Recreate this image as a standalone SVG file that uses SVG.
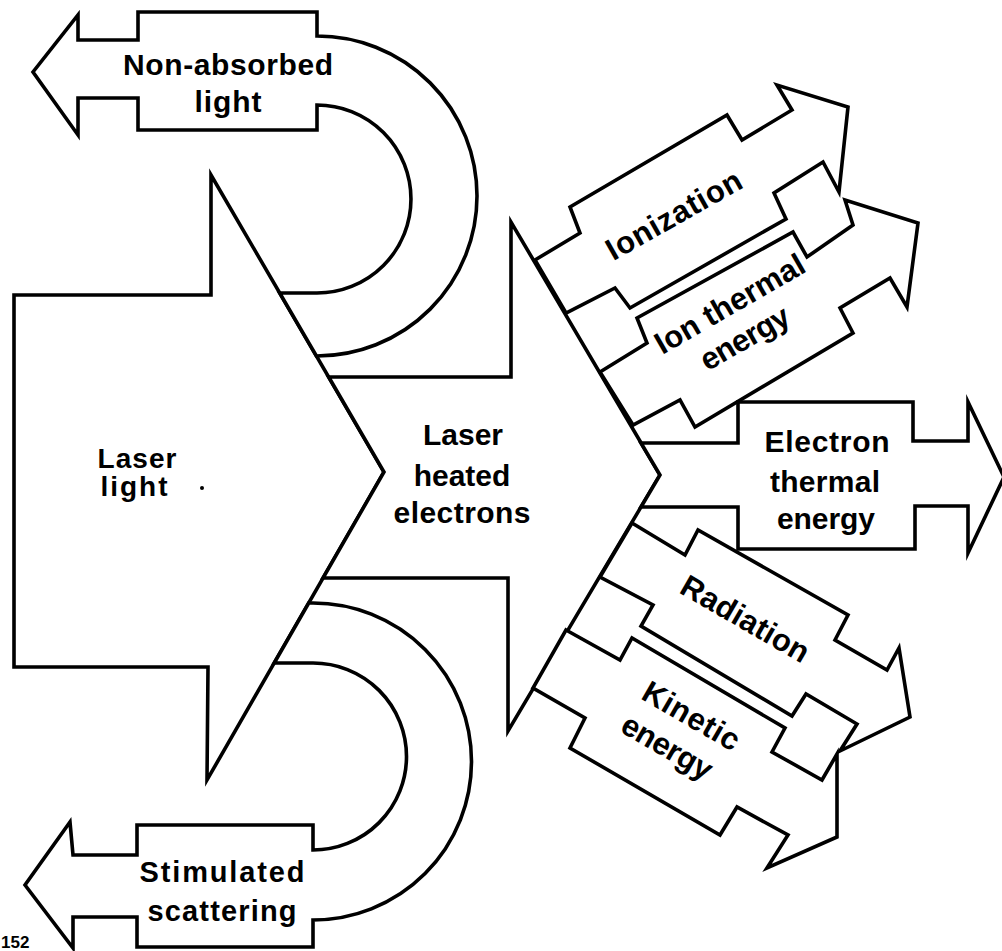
<svg xmlns="http://www.w3.org/2000/svg" width="1002" height="951" viewBox="0 0 1002 951">
<style>
.sh{fill:#fff;stroke:#000;stroke-width:3.6;stroke-linejoin:miter;stroke-miterlimit:10}
.t{font-family:"Liberation Sans",Arial,sans-serif;font-weight:bold;font-size:30px;fill:#000;text-anchor:middle}
.r{font-size:31px}
</style>
<rect width="1002" height="951" fill="#fff"/>
<g id="laser-light">
<polygon class="sh" points="14,295 211,295 211,175 384,472 207,780 208,667 14,667"/>
<text class="t" style="font-size:28px" x="137" y="468" textLength="79" lengthAdjust="spacing">Laser</text>
<text class="t" style="font-size:28px" x="134" y="496" textLength="67" lengthAdjust="spacing">light</text>
<circle cx="202" cy="488" r="2" fill="#000"/>
</g>
<g id="non-absorbed-light">
<path class="sh" d="M138,12 L317,12 L317,36 A160,160 0 0 1 317,356 L316.4,356 L279.7,293 L317,293 A94,94 0 0 0 317,105 L317,130 L138,130 L138,98 L78,98 L78,135 L33,72 L78,15 L78,40 L138,40 Z"/>
<text class="t" x="228" y="75" textLength="210" lengthAdjust="spacing">Non-absorbed</text>
<text class="t" x="228" y="112" textLength="67" lengthAdjust="spacing">light</text>
</g>
<g id="stimulated-scattering">
<path class="sh" d="M308.7,603 L313,603 A158.5,158.5 0 0 1 313,920 L313,947 L137,947 L137,917 L73,917 L73,948 L25,885 L70,822 L73,855 L137,855 L137,825 L313,825 L313,850 A93.5,93.5 0 0 0 313,663 L274.2,663 Z"/>
<text class="t" style="font-size:29px" x="222" y="882" textLength="165" lengthAdjust="spacing">Stimulated</text>
<text class="t" style="font-size:29px" x="222" y="921" textLength="149" lengthAdjust="spacing">scattering</text>
</g>
<g id="laser-heated-electrons">
<polygon class="sh" points="328.7,377 511,377 511,222 660,475 508,731 508,578 323,578 384,472"/>
<text class="t" x="463" y="445">Laser</text>
<text class="t" x="462" y="486">heated</text>
<text class="t" x="462" y="523" textLength="137" lengthAdjust="spacing">electrons</text>
</g>
<g id="ionization">
<polygon class="sh" points="535,260 580,233 570,207 727,115 742,140 792,110 777,85 848,107 839,192 823,162 774,193 786,219 630,308 615,288 566,313"/>
<text class="t r" transform="translate(679,224) rotate(-29.5)" textLength="151" lengthAdjust="spacing">Ionization</text>
</g>
<g id="ion-thermal-energy">
<polygon class="sh" points="600,372 647,343 637,318 793,232 807,257 853,225 845,200 918,223 907,307 890,278 840,308 853,333 695,427 680,400 633,425"/>
<text class="t r" transform="translate(735,313) rotate(-30)" textLength="168" lengthAdjust="spacing">Ion thermal</text>
<text class="t r" transform="translate(750,347) rotate(-30)" textLength="98" lengthAdjust="spacing">energy</text>
</g>
<g id="electron-thermal-energy">
<polygon class="sh" points="641,443 738,443 738,402 913,402 913,441 968,441 968,402 1004,477 968,553 968,506 915,506 915,549 738,549 738,507 641,507 660,475"/>
<text class="t" x="827" y="452" textLength="125" lengthAdjust="spacing">Electron</text>
<text class="t" x="825" y="492" textLength="110" lengthAdjust="spacing">thermal</text>
<text class="t" x="826" y="529" textLength="98" lengthAdjust="spacing">energy</text>
</g>
<g id="radiation">
<polygon class="sh" points="632,523 685,555 698,530 848,615 835,640 887,670 899,648 910,717 840,751 857,724 806,694 792,716 641,626 653,605 600,577"/>
<text class="t r" transform="translate(740,628) rotate(30)" textLength="143" lengthAdjust="spacing">Radiation</text>
</g>
<g id="kinetic-energy">
<polygon class="sh" points="566,630 620,660 632,638 785,728 772,752 822,780 837,754 837,837 767,868 788,835 737,807 720,835 570,748 585,718 533,688"/>
<text class="t r" transform="translate(686,725) rotate(30)" textLength="107" lengthAdjust="spacing">Kinetic</text>
<text class="t r" transform="translate(662,756) rotate(30)" textLength="100" lengthAdjust="spacing">energy</text>
</g>
<g id="connectors"></g>
<text class="t" style="font-size:17px;text-anchor:start" x="1" y="948">152</text>
</svg>
